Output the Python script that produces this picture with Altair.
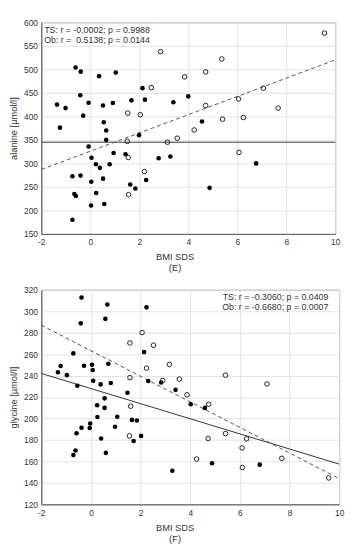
import altair as alt
import pandas as pd

FONT = "Liberation Sans"

# ---------- Panel (E): alanine ----------
e_ts_x = [-1.36, -1.24, -1.01, -0.60, -0.39, -0.41, -0.29, -0.07, 0.36, 0.52, 0.55, 0.65, 0.65, 0.92,
          1.04, 1.68, 1.99, 2.13, 2.23, 3.39, -0.07, 4.00, 4.56, 0.05, 0.23, 0.39, -0.73, -0.40, 0.04,
          0.52, 0.79, 0.95, 1.44, -0.65, -0.59, 0.24, 0.03, 0.57, -0.73, 1.63, 1.84, 2.28, 2.79, 3.27,
          6.77, 4.87]
e_ts_y = [425, 376, 417.5, 504, 495, 445, 401.5, 429, 485.5, 423, 387.5, 370, 350, 428.5,
          493, 434, 360, 460, 435.5, 430, 336, 442.5, 389, 312, 298, 290.5, 272.5, 274, 261,
          267.5, 298, 322, 319.5, 235, 230.5, 237, 210.5, 213.5, 180, 255, 246.5, 264.5, 311, 314.5,
          300, 248]
e_ob_x = [1.53, 2.04, 2.49, 2.87, 1.51, 3.15, 3.55, 9.56, 5.37, 4.71, 3.85, 7.07, 6.05, 4.71,
          7.67, 5.40, 6.25, 4.24, 1.55, 2.21, 1.56, 6.07]
e_ob_y = [407, 403.5, 461, 537.5, 347, 345, 353.5, 577, 522, 494.5, 484, 460, 437, 423,
          417.5, 394, 397.5, 371, 312.5, 282.5, 233.5, 323.5]
e_line_x = [-2, 10]
e_ts_line = [345, 345]
e_ob_line = [287, 520]
e_text = ["TS: r = -0.0002; p = 0.9988", "Ob: r =\u00a0 0.5138; p = 0.0144"]

# ---------- Panel (F): glycine ----------
f_ts_x = [-0.38, 0.66, 2.24, -0.41, 0.58, -0.71, 2.14, -1.33, -1.22, -0.97, -0.28, 0.04, 0.07, 0.70,
          -0.55, 0.09, 0.39, 0.80, 2.31, 2.83, 3.41, 1.47, 0.55, 0.25, 0.55, 0.26, 1.06, -0.03, -0.38,
          -0.05, 0.97, 1.65, 1.85, -0.58, 2.02, 0.41, 1.72, -0.62, -0.71, 0.60, 3.28, 4.02, 4.59,
          4.88, 6.80]
f_ts_y = [312.7, 306.3, 303.6, 288.7, 292.9, 260.7, 261.9, 243.1, 248.9, 240.4, 249.2, 250.1, 245.2, 251,
          230.6, 235.2, 231.8, 233.1, 234.9, 233.6, 226.7, 224, 218.8, 212.4, 209.9, 201.4, 201.7, 195.3, 191.4,
          191.1, 192.3, 198.7, 198.1, 186.2, 183.8, 181.4, 179, 170.2, 165.9, 168, 151.3, 213.3, 209.9,
          158.3, 157]
f_ob_x = [2.06, 1.57, 2.52, 3.16, 2.24, 1.57, 2.89, 3.56, 1.60, 1.55, 5.42, 7.09, 3.87, 4.74,
          5.42, 4.72, 6.27, 6.09, 4.26, 6.10, 7.69, 9.58]
f_ob_y = [280.1, 270.4, 268.3, 250.4, 247, 238.2, 235.5, 236.7, 211.5, 183.8, 240.4, 232.2, 222.1, 213.3,
          186, 181.4, 181.1, 172.6, 162.2, 154.3, 162.9, 144.6]
f_line_x = [-2, 10]
f_ts_line = [242, 157.5]
f_ob_line = [287, 144]
f_text = ["TS: r = -0.3060; p = 0.0409", "Ob: r = -0.6680; p = 0.0007"]

x_ticks = [-2, 0, 2, 4, 6, 8, 10]


def panel(ts_x, ts_y, ob_x, ob_y, lx, l_ts, l_ob, ydom, yticks, ytitle, label,
          texts, talign, tx, width, height):
    xs = alt.Scale(domain=[-2, 10], nice=False, zero=False)
    ys = alt.Scale(domain=ydom, nice=False, zero=False)
    xax = alt.Axis(values=x_ticks, title=["BMI SDS", label], titleX=136,
                   titleLineHeight=11, titlePadding=6, labelPadding=4,
                   labelOverlap=False, labelFlush=False, labelExpr="'' + datum.value")
    yax = alt.Axis(values=yticks, title=ytitle, titlePadding=5, labelPadding=4,
                   labelOverlap=False, labelFlush=False, labelExpr="'' + datum.value")

    ts = pd.DataFrame({"x": ts_x, "y": ts_y})
    ob = pd.DataFrame({"x": ob_x, "y": ob_y})
    lines = pd.DataFrame({"x": lx * 2, "y": l_ts + l_ob,
                          "g": ["TS"] * len(lx) + ["Ob"] * len(lx)})

    X = alt.X("x:Q", scale=xs, axis=xax)
    Y = alt.Y("y:Q", scale=ys, axis=yax)

    ts_line = alt.Chart(lines).transform_filter(alt.datum.g == "TS").mark_line(
        color="#333", strokeWidth=1).encode(x=X, y=Y)
    ob_line = alt.Chart(lines).transform_filter(alt.datum.g == "Ob").mark_line(
        color="#555", strokeWidth=1, strokeDash=[4, 3]).encode(x=X, y=Y)
    filled = alt.Chart(ts).mark_point(filled=True, color="black", size=22, opacity=1).encode(
        x=X, y=Y)
    opened = alt.Chart(ob).mark_point(filled=False, color="#222", size=22, strokeWidth=1,
                                      opacity=1).encode(x=X, y=Y)
    t1 = alt.Chart().mark_text(align=talign, baseline="middle", font=FONT, fontSize=9,
                               color="#333").encode(x=alt.value(tx), y=alt.value(7.5),
                                                    text=alt.value(texts[0]))
    t2 = alt.Chart().mark_text(align=talign, baseline="middle", font=FONT, fontSize=9,
                               color="#333").encode(x=alt.value(tx), y=alt.value(18),
                                                    text=alt.value(texts[1]))
    return alt.layer(ts_line, ob_line, filled, opened, t1, t2).properties(
        width=width, height=height)


pE = panel(e_ts_x, e_ts_y, e_ob_x, e_ob_y, e_line_x, e_ts_line, e_ob_line,
           [150, 600], list(range(150, 601, 50)), "alanine [µmol/l]", "(E)",
           e_text, "left", 3, 300, 216)
pF = panel(f_ts_x, f_ts_y, f_ob_x, f_ob_y, f_line_x, f_ts_line, f_ob_line,
           [120, 320], list(range(120, 321, 20)), "glycine [µmol/l]", "(F)",
           f_text, "right", 293, 304, 219)

chart = alt.vconcat(pE, pF, spacing=12).properties(
    padding={"left": 0, "top": 4, "right": 2, "bottom": 0}
).configure_axis(
    labelFont=FONT, labelFontSize=8.5, labelColor="#333", labelOverlap=False,
    titleFont=FONT, titleFontSize=9.5, titleFontWeight="normal", titleColor="#333",
    gridColor="#e2e2e2", gridWidth=1, domainColor="#555", ticks=False
).configure_view(stroke="#888", strokeWidth=1)

chart.save("out.html", embed_options={"renderer": "svg", "actions": False})
